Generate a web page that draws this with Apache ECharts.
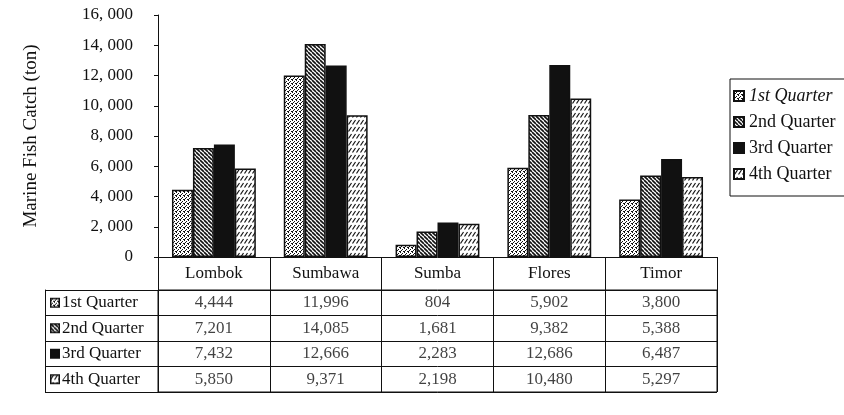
<!DOCTYPE html>
<html>
<head>
<meta charset="utf-8">
<script src="https://cdn.jsdelivr.net/npm/echarts@6/dist/echarts.min.js"></script>
<style>html,body{margin:0;padding:0;background:#fff}#c{width:844px;height:415px}</style>
</head>
<body>
<div id="c"></div>
<script>
const categories = ['Lombok', 'Sumbawa', 'Sumba', 'Flores', 'Timor'];
const seriesNames = ['1st Quarter', '2nd Quarter', '3rd Quarter', '4th Quarter'];
const q1 = [4444, 11996, 804, 5902, 3800];
const q2 = [7201, 14085, 1681, 9382, 5388];
const q3 = [7432, 12666, 2283, 12686, 6487];
const q4 = [5850, 9371, 2198, 10480, 5297];
const yMin = 0, yMax = 16000, yStep = 2000;
const yAxisTitle = 'Marine Fish Catch (ton)';

const values = [q1, q2, q3, q4];
const INK = '#111';
const FONT = 'Liberation Serif';

function makeTile(w, h, draw) {
  const c = document.createElement('canvas');
  c.width = w; c.height = h;
  const g = c.getContext('2d');
  g.fillStyle = '#fff'; g.fillRect(0, 0, w, h);
  g.fillStyle = INK; g.strokeStyle = INK;
  draw(g, w, h);
  return c;
}
const tiles = [
  makeTile(4, 4, g => { [[0,0],[2,1],[1,2],[3,3],[0,3]].forEach(p => g.fillRect(p[0], p[1], 1, 1)); }),
  makeTile(4, 4, (g, w, h) => { g.lineWidth = 1.6; for (let x0 = -w; x0 <= w; x0 += w) { g.beginPath(); g.moveTo(x0, 0); g.lineTo(x0 + w, h); g.stroke(); } }),
  makeTile(4, 4, g => { g.fillRect(0, 0, 4, 4); }),
  makeTile(4, 7, g => { g.lineWidth = 1.2; g.beginPath(); g.moveTo(0.5, 5.5); g.lineTo(3.5, 1); g.stroke(); })
];
function iconCanvas(tile) {
  const c = document.createElement('canvas');
  c.width = 10; c.height = 10;
  const g = c.getContext('2d');
  g.fillStyle = g.createPattern(tile, 'repeat');
  g.fillRect(0, 0, 10, 10);
  g.strokeStyle = INK; g.lineWidth = 1.5;
  g.strokeRect(0.75, 0.75, 8.5, 8.5);
  return c;
}
const icons = tiles.map(iconCanvas);

const barSeries = seriesNames.map((name, s) => ({
  name: name,
  type: 'bar',
  xAxisIndex: 0, yAxisIndex: 0,
  data: values[s],
  barGap: '0%',
  barCategoryGap: '25%',
  itemStyle: { color: { image: tiles[s], repeat: 'repeat' }, borderColor: INK, borderWidth: 1.5 },
  emphasis: { disabled: true }
}));

const cellData = [];
values.forEach((arr, s) => arr.forEach((v, i) => cellData.push([categories[i], seriesNames[s], v])));

const rich = { t: { fontFamily: FONT, fontSize: 17, color: INK, padding: [0, 0, 0, 2] } };
icons.forEach((ic, k) => { rich['i' + k] = { width: 10, height: 10, backgroundColor: { image: ic } }; });

const chart = echarts.init(document.getElementById('c'), null, { renderer: 'canvas' });
chart.setOption({
  animation: false,
  backgroundColor: '#fff',
  textStyle: { fontFamily: FONT },
  grid: [
    { left: 158, top: 15, right: 127, height: 242 },
    { left: 158, top: 290, right: 127, height: 102, show: true, borderColor: INK, borderWidth: 1, backgroundColor: 'transparent' }
  ],
  legend: {
    orient: 'vertical', left: 730, top: 79,
    data: seriesNames,
    icon: 'rect', itemWidth: 10, itemHeight: 10, itemGap: 8,
    padding: [8, 10, 13, 3],
    borderColor: INK, borderWidth: 1,
    selectedMode: false,
    formatter: n => n === seriesNames[0] ? '{it|' + n + '}' : n,
    textStyle: { fontFamily: FONT, fontSize: 18, color: INK, rich: { it: { fontFamily: FONT, fontSize: 18, color: INK, fontStyle: 'italic' } } }
  },
  xAxis: [
    {
      type: 'category', gridIndex: 0, data: categories,
      axisLine: { show: true, lineStyle: { color: INK, width: 1 } },
      axisTick: { show: true, length: 33, interval: 0, lineStyle: { color: INK, width: 1 } },
      axisLabel: { margin: 8, fontFamily: FONT, fontSize: 17, color: INK, interval: 0 },
      splitLine: { show: false }
    },
    {
      type: 'category', gridIndex: 1, data: categories,
      axisLine: { show: false }, axisTick: { show: false }, axisLabel: { show: false },
      splitLine: { show: true, interval: 0, lineStyle: { color: INK, width: 1 } }
    }
  ],
  yAxis: [
    {
      type: 'value', gridIndex: 0, min: yMin, max: yMax, interval: yStep,
      name: yAxisTitle, nameLocation: 'middle', nameGap: 117,
      nameTextStyle: { fontFamily: FONT, fontSize: 19, color: INK },
      axisLine: { show: true, lineStyle: { color: INK, width: 1 } },
      axisTick: { show: true, length: 4, lineStyle: { color: INK } },
      axisLabel: { margin: 25, fontFamily: FONT, fontSize: 17, color: INK, formatter: v => v === 0 ? '0' : v.toLocaleString('en-US').replace(',', ', ') },
      splitLine: { show: false }
    },
    {
      type: 'category', gridIndex: 1, data: seriesNames, inverse: true,
      axisLine: { show: true, lineStyle: { color: INK, width: 1 } },
      axisTick: { show: true, length: 113, interval: 0, lineStyle: { color: INK, width: 1 } },
      axisLabel: {
        margin: 108, align: 'left', interval: 0,
        formatter: v => '{i' + seriesNames.indexOf(v) + '|}{t|' + v + '}',
        rich: rich
      },
      splitLine: { show: true, interval: 0, lineStyle: { color: INK, width: 1 } }
    },
    {
      type: 'category', gridIndex: 1, data: seriesNames, inverse: true, position: 'left', offset: 113,
      axisLine: { show: true, lineStyle: { color: INK, width: 1 } },
      axisTick: { show: false }, axisLabel: { show: false }, splitLine: { show: false }
    }
  ],
  series: barSeries.concat([{
    name: 'table', type: 'scatter', xAxisIndex: 1, yAxisIndex: 1,
    data: cellData, symbolSize: 1, silent: true,
    itemStyle: { color: 'rgba(0,0,0,0)' },
    label: { show: true, position: 'inside', fontFamily: FONT, fontSize: 17, color: INK, formatter: p => p.value[2].toLocaleString('en-US') }
  }])
});
</script>
</body>
</html>
